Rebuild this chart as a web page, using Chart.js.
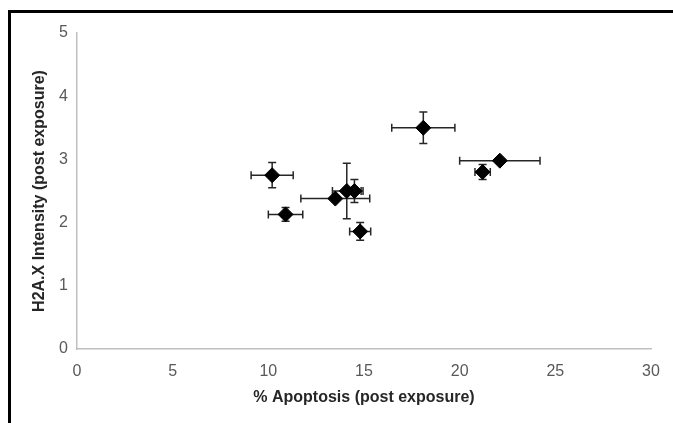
<!DOCTYPE html>
<html lang="en">
<head>
  <meta charset="UTF-8">
  <title>H2A.X Intensity vs Apoptosis</title>
  <script src="https://cdn.jsdelivr.net/npm/chart.js"></script>
  <style>
    body { margin: 0; background: #fff; }
    .wrap { position: relative; width: 673px; height: 423px; }
    .frame { position: absolute; left: 8px; top: 10px; right: 0; bottom: 0;
             border-top: 3px solid #000; border-left: 3px solid #000; pointer-events: none; }
    canvas { position: absolute; left: 0; top: 0; }
  </style>
</head>
<body>
<div class="wrap">
  <canvas id="scatterChart" width="673" height="423"></canvas>
  <div class="frame"></div>
</div>
<script>
  // % apoptosis (x) and H2A.X intensity (y), with error half-widths
  const apoptosis = [10.2, 10.9, 13.5, 14.1, 14.5, 14.8, 18.1, 22.1, 21.2];
  const intensity = [2.75, 2.13, 2.38, 2.5, 2.5, 1.86, 3.5, 2.98, 2.8];
  const apoptosisErr = [1.1, 0.9, 1.8, 0.75, 0.45, 0.55, 1.65, 2.1, 0.4];
  const intensityErr = [0.2, 0.11, 0, 0.44, 0.18, 0.14, 0.25, 0, 0.12];

  const points = apoptosis.map((x, i) => ({ x: x, y: intensity[i] }));

  // draws x and y error bars behind the diamonds
  const errorBars = {
    id: 'errorBars',
    beforeDatasetsDraw(chart) {
      const ctx = chart.ctx;
      const xs = chart.scales.x, ys = chart.scales.y;
      const cap = 4;
      ctx.save();
      ctx.strokeStyle = '#262626';
      ctx.lineWidth = 1.5;
      points.forEach((p, i) => {
        const px = xs.getPixelForValue(p.x);
        const py = ys.getPixelForValue(p.y);
        if (apoptosisErr[i] > 0) {
          const x0 = xs.getPixelForValue(p.x - apoptosisErr[i]);
          const x1 = xs.getPixelForValue(p.x + apoptosisErr[i]);
          ctx.beginPath();
          ctx.moveTo(x0, py); ctx.lineTo(x1, py);
          ctx.moveTo(x0, py - cap); ctx.lineTo(x0, py + cap);
          ctx.moveTo(x1, py - cap); ctx.lineTo(x1, py + cap);
          ctx.stroke();
        }
        if (intensityErr[i] > 0) {
          const y0 = ys.getPixelForValue(p.y - intensityErr[i]);
          const y1 = ys.getPixelForValue(p.y + intensityErr[i]);
          ctx.beginPath();
          ctx.moveTo(px, y0); ctx.lineTo(px, y1);
          ctx.moveTo(px - cap, y0); ctx.lineTo(px + cap, y0);
          ctx.moveTo(px - cap, y1); ctx.lineTo(px + cap, y1);
          ctx.stroke();
        }
      });
      ctx.restore();
    }
  };

  const tickFont = { family: 'Liberation Sans', size: 16 };
  const titleFont = { family: 'Liberation Sans', size: 16, weight: 'bold' };

  new Chart(document.getElementById('scatterChart'), {
    type: 'scatter',
    data: {
      datasets: [{
        data: points,
        pointStyle: 'rectRot',
        pointRadius: 7.5,
        pointHoverRadius: 7.5,
        backgroundColor: '#000',
        borderColor: '#000',
        borderWidth: 1
      }]
    },
    options: {
      responsive: false,
      animation: false,
      layout: { padding: { left: 0, right: 22, top: 33, bottom: 0 } },
      plugins: { legend: { display: false }, tooltip: { enabled: false } },
      scales: {
        x: {
          type: 'linear', min: 0, max: 30,
          ticks: { stepSize: 5, color: '#595959', font: tickFont, padding: 13 },
          grid: { display: false, drawTicks: false },
          border: { display: true, color: '#bfbfbf', width: 1.5 },
          title: { display: true, text: '% Apoptosis (post exposure)', color: '#262626',
                   font: titleFont, padding: { top: 0, bottom: 16 } },
          afterFit(scale) { scale.height = 74; }
        },
        y: {
          type: 'linear', min: 0, max: 5,
          ticks: { stepSize: 1, color: '#595959', font: tickFont, padding: 9 },
          grid: { display: false, drawTicks: false },
          border: { display: true, color: '#bfbfbf', width: 1.5 },
          title: { display: true, text: 'H2A.X Intensity (post exposure)', color: '#262626',
                   font: titleFont, padding: { top: 30, bottom: 0 } },
          afterFit(scale) { scale.width = 77; }
        }
      }
    },
    plugins: [errorBars]
  });
</script>
</body>
</html>
